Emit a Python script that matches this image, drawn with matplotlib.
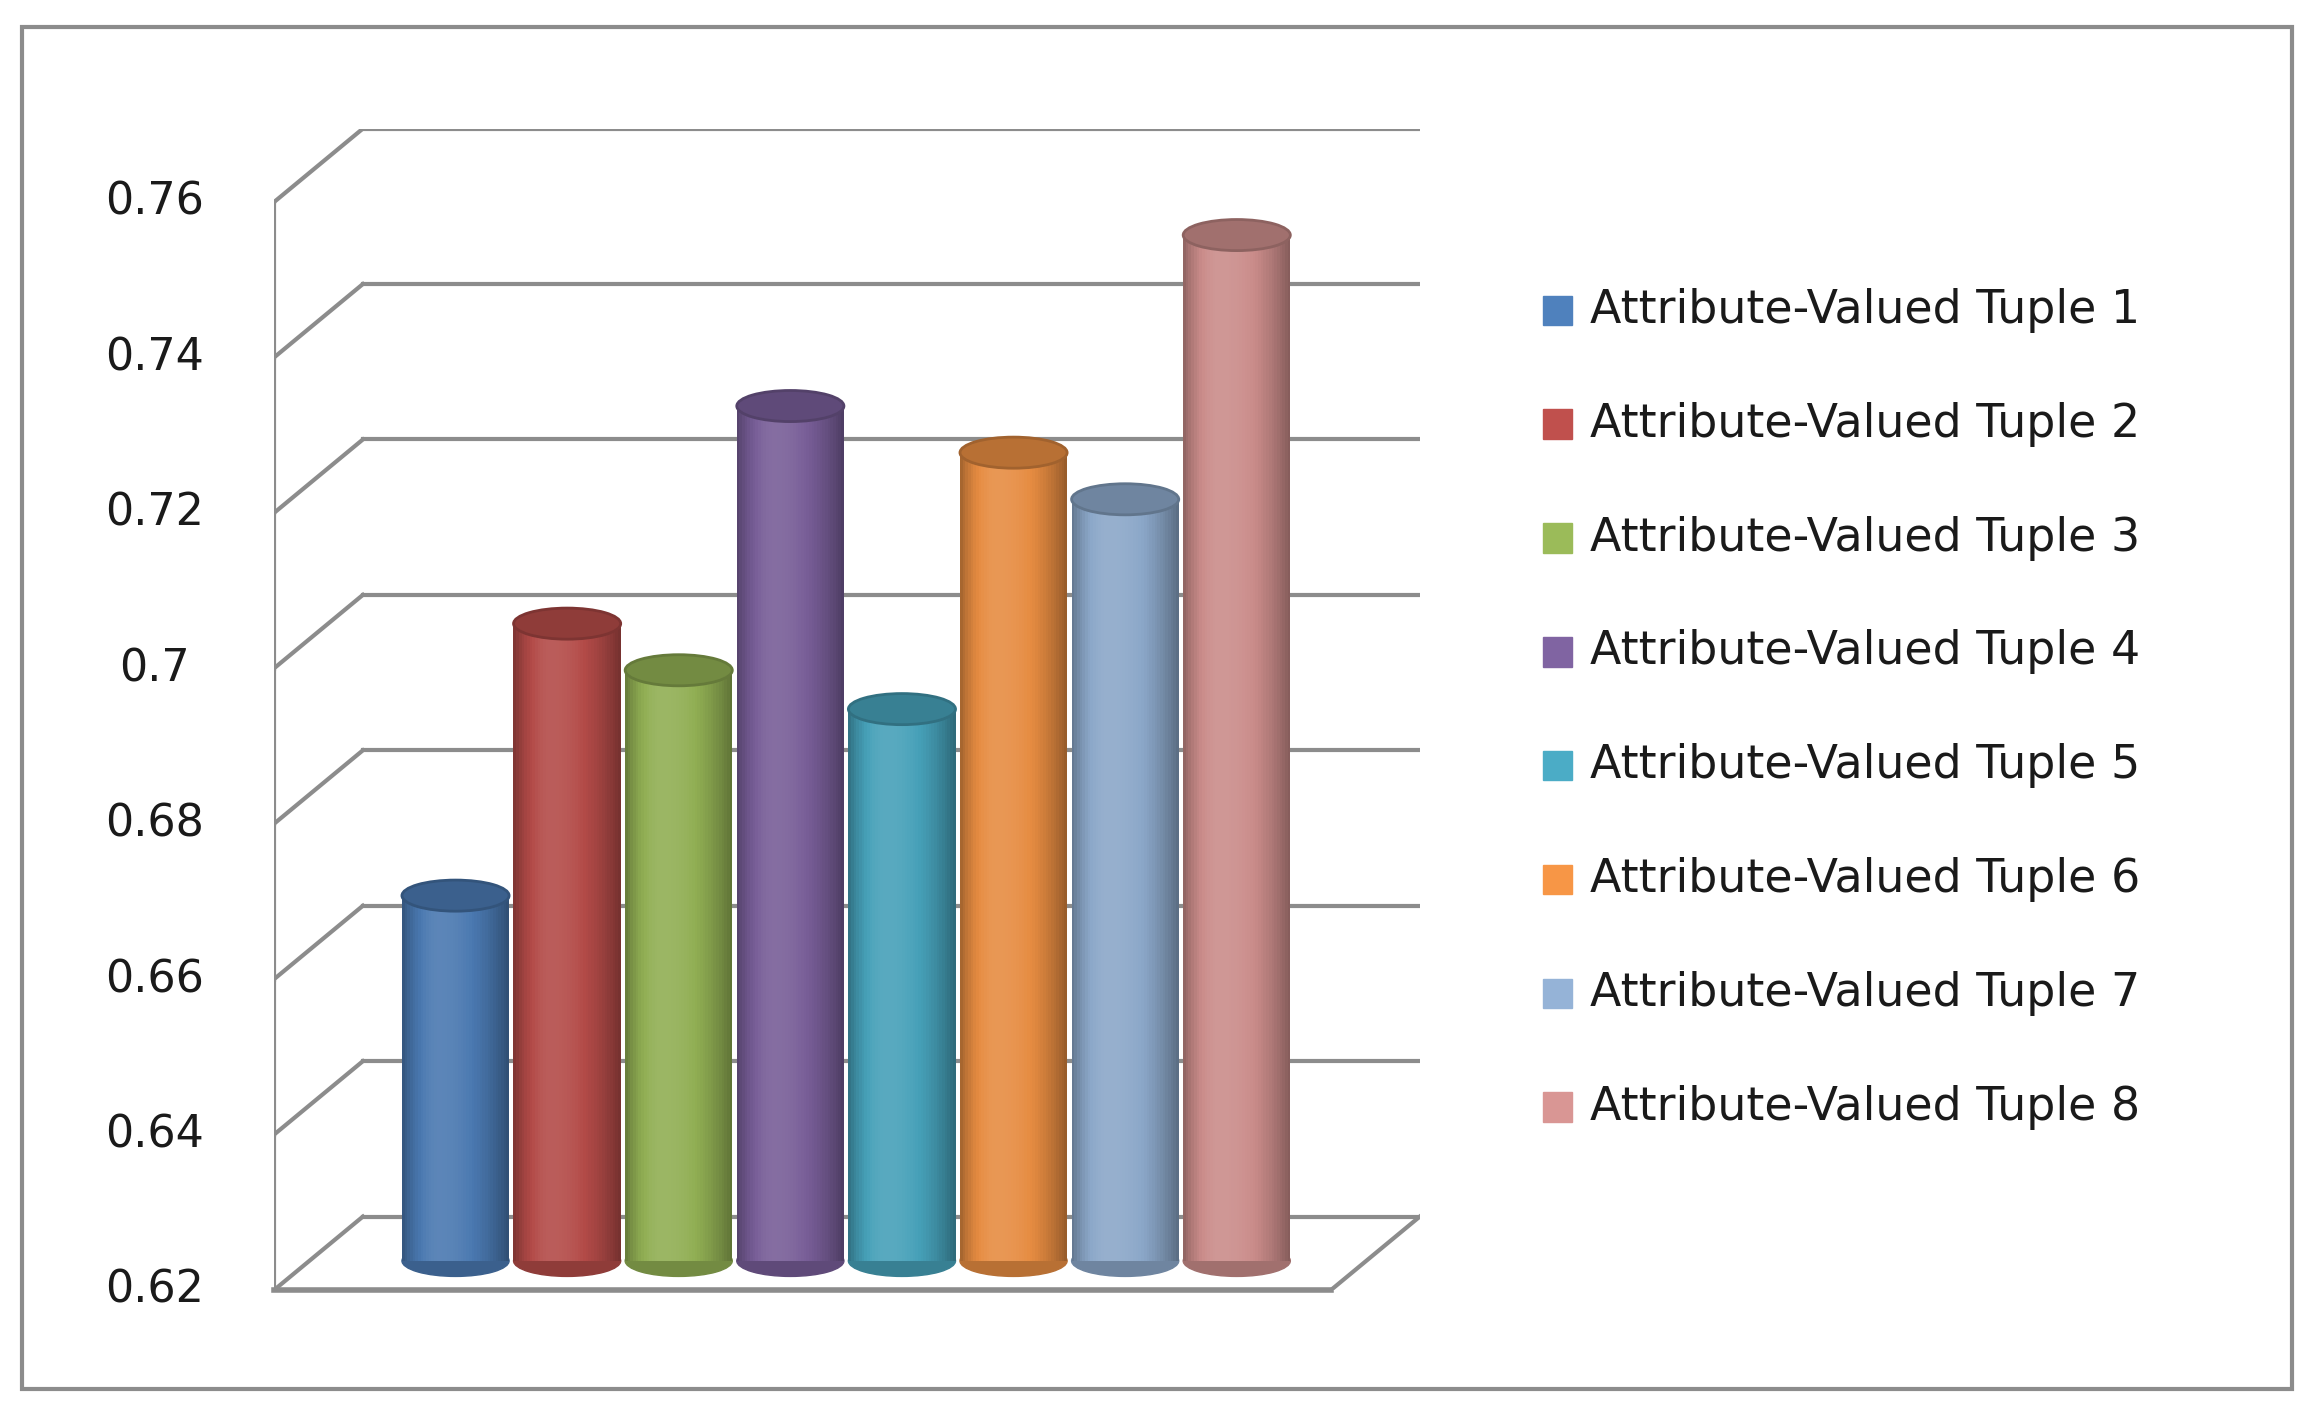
import numpy as np
import matplotlib.pyplot as plt
from matplotlib.patches import Ellipse, Rectangle
from matplotlib.colors import to_rgb

labels = ['Attribute-Valued Tuple %d' % i for i in range(1, 9)]
values = [0.667, 0.702, 0.696, 0.730, 0.691, 0.724, 0.718, 0.752]
colors = ['#4F81BD', '#C0504D', '#9BBB59', '#8064A2',
          '#4BACC6', '#F79646', '#95B3D7', '#D99694']
ticks = [0.62, 0.64, 0.66, 0.68, 0.70, 0.72, 0.74, 0.76]
tick_labels = ['0.62', '0.64', '0.66', '0.68', '0.7', '0.72', '0.74', '0.76']

# 3d look: depth offset of the back wall
dx, dy = 0.8, 0.0095
x_front0, x_front1 = -1.63, 7.84
width = 0.96
ell_h = 0.004

fig = plt.figure(figsize=(23.19, 14.19), dpi=100)
fig.add_artist(Rectangle((15/1568, 1-940/960), 1535/1568, 922/960,
                         transform=fig.transFigure, fill=False,
                         ec='#8c8c8c', lw=3))
ax = fig.add_axes([185/1568, 1-873/960, 775/1568, 786/960])
ax.set_xlim(x_front0, x_front1 + dx)
ax.set_ylim(0.62, 0.76 + dy)
ax.axis('off')

grid = '#8c8c8c'
for t in ticks:
    ax.plot([x_front0 + dx, x_front1 + dx], [t + dy, t + dy], color=grid, lw=3, zorder=1)
    ax.plot([x_front0, x_front0 + dx], [t, t + dy], color=grid, lw=3, zorder=1)
    ax.plot([x_front0 - 0.13, x_front0], [t, t], color=grid, lw=3, zorder=1)
ax.plot([x_front0, x_front0], [0.62, 0.76], color=grid, lw=3, zorder=1)
ax.plot([x_front0, x_front1], [0.62, 0.62], color=grid, lw=4, zorder=1, clip_on=False)
ax.plot([x_front1, x_front1 + dx], [0.62, 0.62 + dy], color=grid, lw=3, zorder=1)
for t, s in zip(ticks, tick_labels):
    ax.text(x_front0 - 1.07, t, s, ha='center', va='center', fontsize=32,
            color='#1a1a1a', clip_on=False)

# cylinders
base = 0.62 + dy * 0.4
n = 40
edges = np.linspace(0, 1, n + 1)
for i, (v, c) in enumerate(zip(values, colors)):
    rgb = np.array(to_rgb(c)) * 0.93
    top = v + dy * 0.4
    x0 = i - width / 2
    for k in range(n):
        u = (edges[k] + edges[k + 1]) / 2
        if u > 0.35:
            f = 1.1 - 0.45 * ((u - 0.35) / 0.65) ** 2
        else:
            f = 1.1 - 0.4 * ((0.35 - u) / 0.35) ** 2
        col = np.clip(rgb * f, 0, 1) if f <= 1 else np.clip(rgb + (1 - rgb) * (f - 1), 0, 1)
        ax.bar(x0 + u * width, top - base, bottom=base, width=width / n * 1.05,
               color=col, lw=0, zorder=3)
    dark = np.clip(rgb * 0.8, 0, 1)
    ax.add_patch(Ellipse((i, base), width, ell_h, color=dark, zorder=2.9))
    ax.add_patch(Ellipse((i, top), width, ell_h, fc=dark, ec=np.clip(rgb * 0.7, 0, 1),
                         lw=2, zorder=4))

# legend
for j, (lab, c) in enumerate(zip(labels, colors)):
    yc = 1 - (210 + j * 77) / 960
    fig.add_artist(Rectangle((1043/1568, yc - 10/960), 20/1568, 20/960,
                             transform=fig.transFigure, color=c))
    fig.text(1075/1568, yc, lab, ha='left', va='center', fontsize=33, color='#1a1a1a')

fig.savefig('out.png')
